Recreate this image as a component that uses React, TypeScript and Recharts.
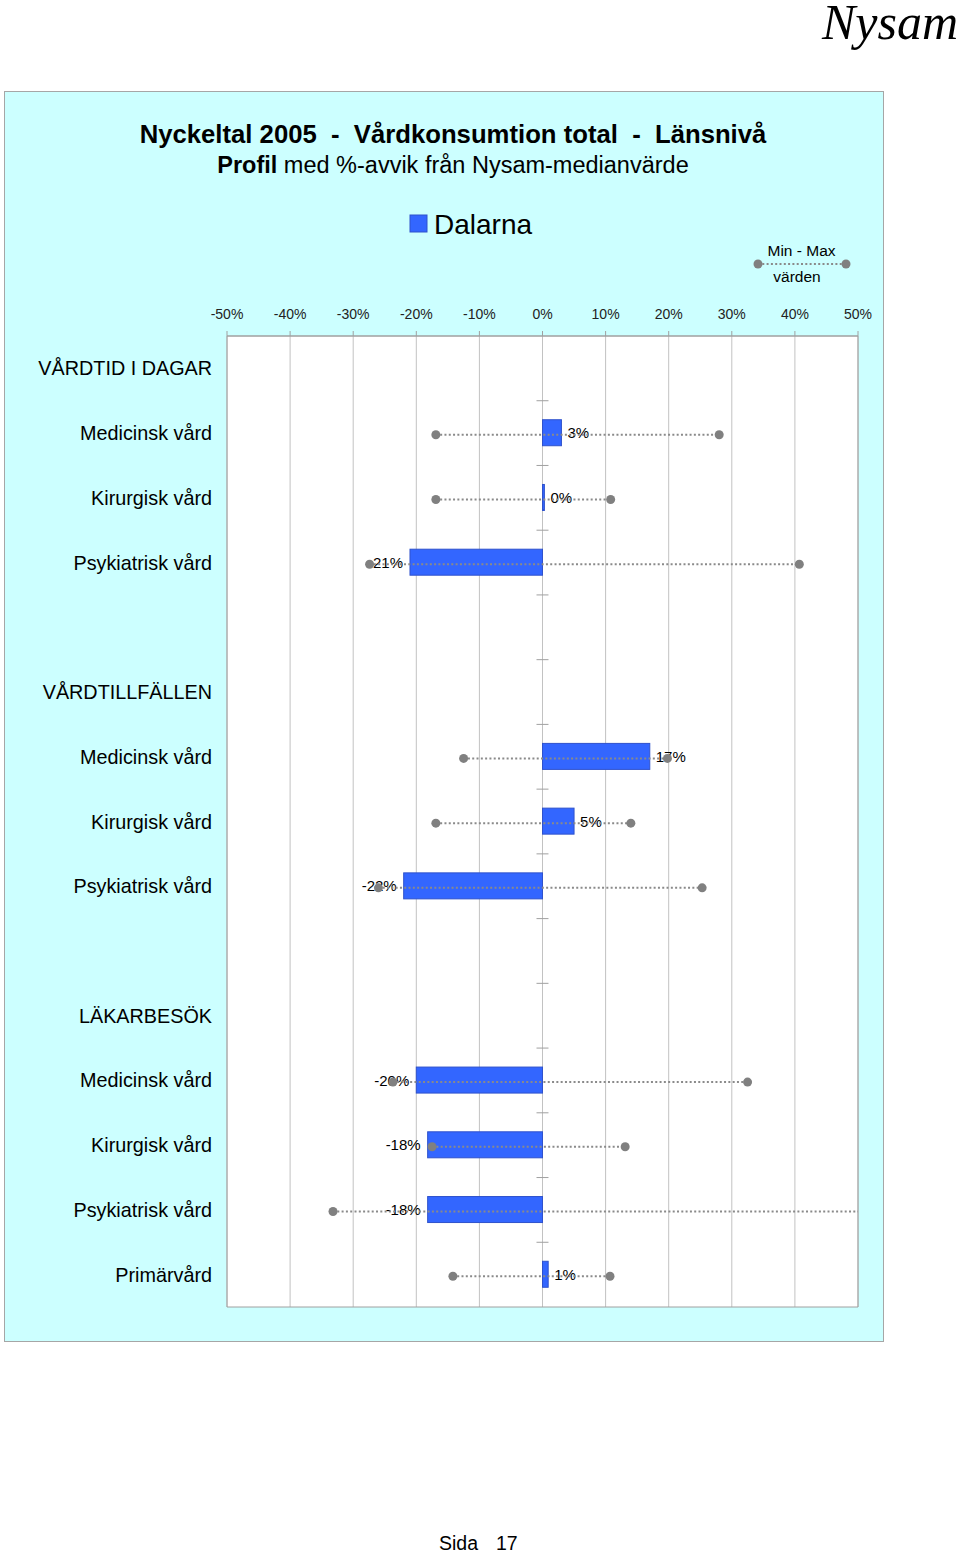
import React from 'react'
import {
  ComposedChart,
  Bar,
  XAxis,
  YAxis,
  CartesianGrid,
  ReferenceLine,
  ReferenceArea,
} from 'recharts'

// rows top to bottom, '' = empty spacer row
const categories = [
  'VÅRDTID I DAGAR',
  'Medicinsk vård',
  'Kirurgisk vård',
  'Psykiatrisk vård',
  '',
  'VÅRDTILLFÄLLEN',
  'Medicinsk vård',
  'Kirurgisk vård',
  'Psykiatrisk vård',
  '',
  'LÄKARBESÖK',
  'Medicinsk vård',
  'Kirurgisk vård',
  'Psykiatrisk vård',
  'Primärvård',
]
const dalarna = [null, 3, 0.3, -21, null, null, 17, 5, -22, null, null, -20, -18.2, -18.2, 0.9]
const minValues = [null, -16.9, -16.9, -27.4, null, null, -12.5, -16.9, -26, null, null, -23.7, -17.5, -33.2, -14.2]
const maxValues = [null, 28, 10.8, 40.7, null, null, 19.8, 14, 25.3, null, null, 32.5, 13.1, 58, 10.7]
const xTicks = [-50, -40, -30, -20, -10, 0, 10, 20, 30, 40, 50]
// rows whose top edge gets a small tick on the 0 line
const rowBoundaries = [1, 2, 3, 4, 5, 6, 7, 8, 9, 10, 11, 12, 13, 14]

const data = categories.map((name, i) => ({
  id: i,
  name,
  value: dalarna[i],
  range: minValues[i] == null ? null : [minValues[i], maxValues[i]],
}))

const FONT = '"Liberation Sans", Arial, Helvetica, sans-serif'
const BLUE = '#3366ff'
const DOT = '#808080'

function ValueBar(props: any) {
  const { x, y, width, height, value } = props
  const v = Array.isArray(value) ? value[1] - value[0] : value
  if (![x, y, width, height].every(Number.isFinite) || v == null) return null
  const left = Math.min(x, x + width)
  const right = Math.max(x, x + width)
  const cy = y + height / 2
  const neg = v < 0
  return (
    <g>
      <rect x={left} y={y} width={Math.max(right - left, 1.5)} height={height} fill={BLUE} stroke="#2f52cc" strokeWidth={1} />
      <text
        x={neg ? left - 7 : right + 6}
        y={cy}
        textAnchor={neg ? 'end' : 'start'}
        dominantBaseline="central"
        fontSize={15}
        fontFamily={FONT}
        fill="#000"
      >
        {Math.round(v)}%
      </text>
    </g>
  )
}

function MinMaxShape(props: any) {
  const { x, y, width, height } = props
  if (![x, y, width, height].every(Number.isFinite)) return null
  const cy = y + height / 2 + 2
  return (
    <g>
      <line x1={x} x2={x + width} y1={cy} y2={cy} stroke="#8a8a8a" strokeWidth={2} strokeDasharray="2 2.3" />
      <circle cx={x} cy={cy} r={4.5} fill={DOT} />
      <circle cx={x + width} cy={cy} r={4.5} fill={DOT} />
    </g>
  )
}

export default function App() {
  return (
    <div style={{ position: 'absolute', left: 0, top: 0, width: 960, height: 1554, background: '#fff', fontFamily: FONT }}>
      {/* cyan panel */}
      <div
        style={{
          position: 'absolute',
          left: 4,
          top: 91,
          width: 880,
          height: 1251,
          background: '#ccffff',
          border: '1px solid #a6a6a6',
          boxSizing: 'border-box',
        }}
      />

      <div style={{ position: 'absolute', left: 0, top: 0 }}>
        <ComposedChart
          width={960}
          height={1320}
          data={data}
          layout="vertical"
          margin={{ top: 306, right: 102, bottom: 13, left: 12 }}
        >
          <CartesianGrid yAxisId="cat" horizontal={false} stroke="#c2c2c2" fill="#ffffff" />
          <XAxis
            type="number"
            orientation="top"
            domain={[-50, 50]}
            ticks={xTicks}
            allowDataOverflow
            height={30}
            tickSize={5}
            tickMargin={12}
            tickFormatter={(v: number) => `${v}%`}
            tick={{ fontSize: 14, fill: '#222', fontFamily: FONT }}
            axisLine={{ stroke: '#a0a0a0' }}
            tickLine={{ stroke: '#a0a0a0' }}
          />
          <YAxis
            yAxisId="cat"
            type="category"
            dataKey="id"
            width={215}
            interval={0}
            tickLine={false}
            axisLine={false}
            tickSize={0}
            tickMargin={15}
            tickFormatter={(i: number) => categories[i]}
            tick={{ fontSize: 19.8, fill: '#000', fontFamily: FONT }}
          />
          <YAxis yAxisId="range" type="category" dataKey="id" hide />

          <ReferenceArea
            yAxisId="cat"
            x1={-50}
            x2={50}
            fill="none"
            stroke="#a0a0a0"
            strokeWidth={1}
            ifOverflow="visible"
          />
          {rowBoundaries.map((k) => (
            <ReferenceLine
              key={k}
              yAxisId="cat"
              position="start"
              segment={[
                { x: -0.95, y: k },
                { x: 0.95, y: k },
              ]}
              stroke="#a0a0a0"
              strokeWidth={1}
            />
          ))}

          <Bar yAxisId="cat" dataKey="value" barSize={26} shape={ValueBar} isAnimationActive={false} />
          <Bar yAxisId="range" dataKey="range" barSize={10} shape={MinMaxShape} isAnimationActive={false} />
        </ComposedChart>
      </div>

      {/* titles, legend and page texts */}
      <svg
        width={960}
        height={1554}
        style={{ position: 'absolute', left: 0, top: 0, pointerEvents: 'none' }}
        fontFamily={FONT}
      >
        <text x={958} y={39} textAnchor="end" fontSize={50} fontStyle="italic" fontFamily='"Liberation Serif", "Times New Roman", serif' fill="#000">
          Nysam
        </text>
        <text x={453} y={143} textAnchor="middle" fontSize={25.7} fontWeight="bold" fill="#000" style={{ whiteSpace: 'pre' }}>
          {'Nyckeltal 2005  -  Vårdkonsumtion total  -  Länsnivå'}
        </text>
        <text x={453} y={173} textAnchor="middle" fontSize={23.5} fill="#000">
          <tspan fontWeight="bold">Profil</tspan>
          <tspan>{' med %-avvik från Nysam-medianvärde'}</tspan>
        </text>

        <rect x={410} y={215} width={17} height={17} fill={BLUE} stroke="#2f52cc" strokeWidth={1} />
        <text x={434} y={234} fontSize={28} fill="#000">Dalarna</text>

        <text x={801.5} y={256} textAnchor="middle" fontSize={15.5} fill="#000">Min - Max</text>
        <line x1={758} x2={846} y1={264} y2={264} stroke="#8a8a8a" strokeWidth={2} strokeDasharray="2 2.3" />
        <circle cx={758} cy={264} r={4.5} fill={DOT} />
        <circle cx={846} cy={264} r={4.5} fill={DOT} />
        <text x={797} y={282} textAnchor="middle" fontSize={15.5} fill="#000">värden</text>

        <text x={439} y={1550} fontSize={19.5} fill="#000">Sida</text>
        <text x={496} y={1550} fontSize={19.5} fill="#000">17</text>
      </svg>
    </div>
  )
}
